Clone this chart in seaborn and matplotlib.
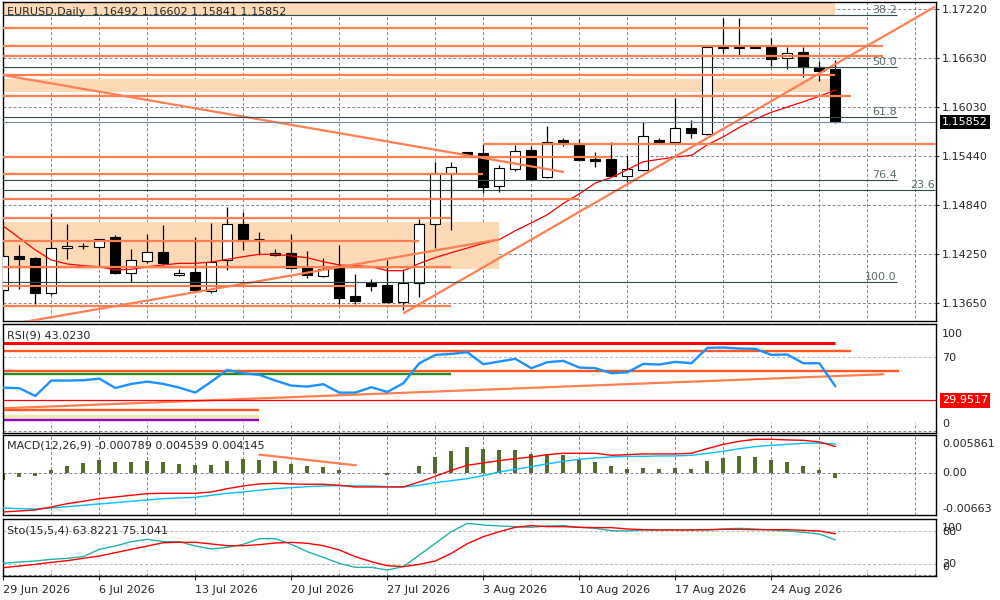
import numpy as np
import pandas as pd
import matplotlib
matplotlib.use("Agg")
import matplotlib.pyplot as plt
import seaborn as sns

# ---------------- data ----------------
header_text = "EURUSD,Daily  1.16492 1.16602 1.15841 1.15852"
rsi_text = "RSI(9) 43.0230"
macd_text = "MACD(12,26,9) -0.000789 0.004539 0.004145"
sto_text = "Sto(15,5,4) 63.8221 75.1041"

date_tick_bars = [0, 6, 12, 18, 24, 30, 36, 42, 48]
date_tick_labels = ["29 Jun 2026", "6 Jul 2026", "13 Jul 2026", "20 Jul 2026", "27 Jul 2026",
                    "3 Aug 2026", "10 Aug 2026", "17 Aug 2026", "24 Aug 2026"]
price_ticks = [1.17220, 1.16630, 1.16030, 1.15440, 1.14840, 1.14250, 1.13650]
last_price = 1.15852

opens = [1.13812, 1.14225, 1.14204, 1.13772, 1.14319, 1.14345, 1.14338, 1.14452, 1.14022, 1.14168,
         1.14270, 1.13991, 1.14027, 1.13800, 1.14177, 1.14610, 1.14428, 1.14258, 1.14258, 1.14083,
         1.13982, 1.14083, 1.13739, 1.13893, 1.13873, 1.13670, 1.13901, 1.14610, 1.15229, 1.15484,
         1.15472, 1.15078, 1.15281, 1.15512, 1.15181, 1.15633, 1.15573, 1.15403, 1.15403, 1.15200,
         1.15269, 1.15633, 1.15613, 1.15775, 1.15706, 1.16750, 1.16755, 1.16759, 1.16759, 1.16625,
         1.16698, 1.16523, 1.16492]
highs = [1.14260, 1.14359, 1.14213, 1.14747, 1.14614, 1.14383, 1.14435, 1.14480, 1.14310, 1.14492,
         1.14601, 1.14064, 1.14452, 1.14622, 1.14816, 1.14755, 1.14520, 1.14306, 1.14489, 1.14286,
         1.14204, 1.14359, 1.14006, 1.13942, 1.14177, 1.14064, 1.14674, 1.15370, 1.15363, 1.15490,
         1.15585, 1.15330, 1.15573, 1.15564, 1.15803, 1.15654, 1.15642, 1.15484, 1.15613, 1.15443,
         1.15848, 1.15654, 1.16140, 1.15876, 1.16763, 1.17111, 1.17111, 1.16765, 1.16868, 1.16759,
         1.16759, 1.16592, 1.16602]
lows = [1.13780, 1.13824, 1.13642, 1.13752, 1.14192, 1.14310, 1.14092, 1.14006, 1.13913, 1.14136,
        1.14116, 1.13982, 1.13804, 1.13772, 1.14055, 1.14298, 1.14237, 1.14225, 1.14064, 1.13954,
        1.13967, 1.13639, 1.13639, 1.13804, 1.13651, 1.13570, 1.13731, 1.14319, 1.14541, 1.15455,
        1.14994, 1.15006, 1.15261, 1.15148, 1.15168, 1.15564, 1.15382, 1.15302, 1.15188, 1.15127,
        1.15261, 1.15593, 1.15605, 1.15654, 1.15694, 1.16686, 1.16665, 1.16750, 1.16532, 1.16495,
        1.16402, 1.16350, 1.15841]
closes = [1.14225, 1.14192, 1.13772, 1.14319, 1.14350, 1.14348, 1.14431, 1.14022, 1.14177, 1.14270,
          1.14136, 1.14015, 1.13812, 1.14156, 1.14610, 1.14428, 1.14430, 1.14237, 1.14076, 1.13995,
          1.14064, 1.13719, 1.13682, 1.13864, 1.13670, 1.13901, 1.14610, 1.15229, 1.15302, 1.15463,
          1.15066, 1.15290, 1.15500, 1.15160, 1.15605, 1.15593, 1.15391, 1.15379, 1.15200, 1.15278,
          1.15682, 1.15613, 1.15775, 1.15715, 1.16759, 1.16759, 1.16759, 1.16755, 1.16613, 1.16693,
          1.16516, 1.16475, 1.15852]
ma_values = [1.14589, 1.14444, 1.14298, 1.14177, 1.14128, 1.14107, 1.14095, 1.14055, 1.14064, 1.14095,
             1.14116, 1.14136, 1.14136, 1.14152, 1.14185, 1.14217, 1.14246, 1.14246, 1.14225, 1.14204,
             1.14156, 1.14116, 1.14107, 1.14095, 1.14047, 1.14047, 1.14134, 1.14207, 1.14265, 1.14322,
             1.14379, 1.14425, 1.14532, 1.14628, 1.14726, 1.14864, 1.14981, 1.15111, 1.15179, 1.15273,
             1.15370, 1.15399, 1.15427, 1.15446, 1.15576, 1.15673, 1.15786, 1.15888, 1.15970, 1.16034,
             1.16098, 1.16165, 1.16240]
rsi_values = [41.7, 41.2, 34.0, 48.3, 48.3, 48.6, 50.1, 41.4, 45.2, 47.3,
              45.2, 41.7, 37.1, 47.3, 58.2, 55.1, 53.6, 48.3, 43.6, 42.7,
              44.9, 37.1, 37.1, 42.1, 37.7, 45.8, 64.4, 72.2, 73.1, 74.7,
              63.5, 66.0, 68.5, 59.8, 65.4, 66.6, 60.4, 59.8, 55.1, 56.0,
              63.8, 63.2, 65.7, 64.4, 78.7, 79.0, 78.1, 77.8, 72.2, 72.5,
              64.4, 64.4, 43.02]
macd_hist = [-0.00100, -0.00052, -0.00036, 0.00052, 0.00119, 0.00160, 0.00212, 0.00176, 0.00176, 0.00196,
             0.00176, 0.00150, 0.00124, 0.00134, 0.00196, 0.00217, 0.00207, 0.00191, 0.00145, 0.00119,
             0.00103, 0.00046, 0.00010, 0.00000, -0.00020, 0.00000, 0.00119, 0.00258, 0.00346, 0.00413,
             0.00382, 0.00367, 0.00362, 0.00305, 0.00300, 0.00289, 0.00227, 0.00176, 0.00114, 0.00067,
             0.00083, 0.00067, 0.00083, 0.00067, 0.00191, 0.00243, 0.00269, 0.00253, 0.00207, 0.00176,
             0.00119, 0.00052, -0.000789]
macd_red = [-0.00599, -0.00584, -0.00568, -0.00522, -0.00470, -0.00434, -0.00393, -0.00367, -0.00341, -0.00315,
            -0.00310, -0.00310, -0.00310, -0.00289, -0.00238, -0.00196, -0.00165, -0.00155, -0.00165, -0.00170,
            -0.00170, -0.00186, -0.00212, -0.00212, -0.00212, -0.00212, -0.00134, -0.00046, 0.00046, 0.00124,
            0.00160, 0.00196, 0.00227, 0.00253, 0.00289, 0.00310, 0.00310, 0.00310, 0.00279, 0.00289,
            0.00300, 0.00300, 0.00300, 0.00310, 0.00382, 0.00449, 0.00496, 0.00527, 0.00527, 0.00517,
            0.00511, 0.00486, 0.004145]
macd_blue = [-0.00537, -0.00548, -0.00553, -0.00537, -0.00517, -0.00496, -0.00475, -0.00455, -0.00434, -0.00413,
             -0.00393, -0.00382, -0.00372, -0.00341, -0.00310, -0.00289, -0.00263, -0.00238, -0.00222, -0.00207,
             -0.00196, -0.00191, -0.00196, -0.00196, -0.00207, -0.00212, -0.00186, -0.00145, -0.00114, -0.00083,
             -0.00036, 0.00021, 0.00062, 0.00103, 0.00145, 0.00186, 0.00217, 0.00238, 0.00253, 0.00263,
             0.00263, 0.00269, 0.00269, 0.00279, 0.00310, 0.00341, 0.00382, 0.00413, 0.00434, 0.00449,
             0.00465, 0.00470, 0.004539]
sto_main = [21.2, 23.6, 25.5, 28.5, 30.3, 33.3, 46.7, 52.7, 60.6, 64.8,
            60.6, 60.6, 52.7, 47.3, 50.3, 55.8, 66.1, 66.1, 55.8, 42.4,
            32.1, 21.2, 13.9, 13.9, 9.1, 15.2, 36.4, 57.6, 78.8, 93.9,
            90.9, 89.1, 87.9, 86.7, 89.1, 89.7, 86.7, 84.8, 80.6, 80.0,
            81.8, 82.4, 82.4, 82.4, 81.8, 83.6, 84.8, 83.6, 81.8, 80.0,
            77.6, 74.5, 63.82]
sto_signal = [13.3, 16.4, 19.4, 23.0, 26.1, 30.3, 34.5, 40.6, 46.7, 52.7,
              58.8, 59.4, 59.4, 56.4, 53.3, 53.3, 55.2, 58.2, 59.4, 57.6,
              53.3, 45.5, 33.3, 24.2, 17.0, 15.2, 19.4, 25.5, 39.4, 57.0,
              69.7, 78.8, 86.7, 89.7, 87.9, 87.9, 86.7, 86.1, 86.1, 83.6,
              82.4, 81.8, 81.8, 81.8, 82.4, 83.0, 83.0, 82.4, 82.4, 82.4,
              81.2, 80.0, 75.10]

# drawn objects on price chart: (price, bar_from, bar_to)
orange_levels = [(1.16993, -0.5, 54.0), (1.16778, -0.5, 55.0), (1.16653, -0.5, 55.0),
                 (1.16422, -0.5, 52.0), (1.16162, -0.5, 53.0), (1.15588, 30.0, 58.5),
                 (1.15431, -0.5, 38.0), (1.15221, -0.5, 30.0), (1.14921, -0.5, 36.0),
                 (1.14690, -0.5, 28.0), (1.14407, -0.5, 26.0), (1.14095, -0.5, 28.0),
                 (1.13861, -0.5, 22.0), (1.13622, -0.5, 28.0)]
zones = [(1.17147, 1.17400, -0.5, 52.0), (1.16220, 1.16374, -0.5, 52.0), (1.14067, 1.14641, -0.5, 31.0)]
fib_levels = [("38.2", 1.17147, 55.83), ("50.0", 1.16523, 55.83), ("61.8", 1.15909, 55.83),
              ("76.4", 1.15144, 55.83), ("23.6", 1.15023, 58.2), ("100.0", 1.13906, 55.83)]
trend_lines = [((-0.02, 1.16422), (35.04, 1.15245)),
               ((-0.02, 1.13380), (31.0, 1.14428)),
               ((25.0, 1.13529), (58.23, 1.17252))]
rsi_levels = [(83.6, 52.0, "#FF0000", 2.2), (76.2, 53.0, "#FF5722", 1.7), (57.6, 56.0, "#FF5722", 1.7),
              (54.8, 28.0, "#228B22", 1.7), (21.2, 16.0, "#FF5722", 1.7), (14.7, 16.0, "#EEE8AA", 3.2),
              (11.9, 16.0, "#9400D3", 1.7)]
rsi_trend = ((-0.02, 22.5), (55.0, 54.2))
rsi_marker_level = 29.9517
macd_trend = ((16.0, 0.00289), (22.04, 0.00124))

# ---------------- style ----------------
sns.set_style("white")
plt.rcParams["font.family"] = ["DejaVu Sans"]
plt.rcParams["font.size"] = 8

CORAL = "#FF7F50"
PEACH = "#FDD9B6"
GRID = "#778899"
FIB = "#2F4F4F"
XMIN, XMAX = -0.02, 58.29

fig = plt.figure(figsize=(10, 6), dpi=100)
fig.patch.set_facecolor("white")


def px_axes(x0, y0, x1, y1):
    return fig.add_axes([x0 / 1000, 1 - y1 / 600, (x1 - x0) / 1000, (y1 - y0) / 600])


ax = px_axes(3, 2, 936, 321)
ax_rsi = px_axes(3, 324, 936, 432.5)
ax_macd = px_axes(3, 434.7, 936, 515.3)
ax_sto = px_axes(3, 519, 936, 576)

bars = np.arange(len(opens))
grid_bars = np.arange(0, 58, 3)

for a in (ax, ax_rsi, ax_macd, ax_sto):
    a.set_xlim(XMIN, XMAX)
    for s in a.spines.values():
        s.set_color("black")
        s.set_linewidth(1.0)
    a.vlines(grid_bars, -10, 10, colors=GRID, lw=0.7, linestyles=(0, (3, 2.2)), zorder=0.5)
    a.tick_params(axis="x", which="both", bottom=False, labelbottom=False)
    a.tick_params(axis="y", which="both", left=False, labelleft=False)

# ---------------- main chart ----------------
ax.set_ylim(1.13436, 1.17309)
ax.hlines(price_ticks, XMIN, XMAX, colors=GRID, lw=0.7, linestyles=(0, (3, 2.2)), zorder=0.5)
for lo, hi, b0, b1 in zones:
    ax.fill_between([b0, b1], lo, hi, color=PEACH, lw=0, zorder=1)

o = np.array(opens); c = np.array(closes)
body_bottom = np.minimum(o, c)
body_h = np.maximum(np.abs(c - o), 0.00002)
faces = ["white" if cc >= oo else "black" for oo, cc in zip(o, c)]
ax.vlines(bars, lows, highs, colors="black", lw=0.9, zorder=3)
ax.bar(bars, body_h, bottom=body_bottom, width=0.62, color=faces, edgecolor="black", linewidth=0.8, zorder=4)

sns.lineplot(x=bars, y=ma_values, ax=ax, color="#FF0000", lw=0.9, zorder=5)

for price, b0, b1 in orange_levels:
    ax.hlines(price, b0, b1, colors=CORAL, lw=1.6, zorder=6)
for (x0, y0), (x1, y1) in trend_lines:
    ax.plot([x0, x1], [y0, y1], color=CORAL, lw=1.6, zorder=6, solid_capstyle="butt")
for lab, price, b1 in fib_levels:
    ax.hlines(price, -0.5, b1, colors=FIB, lw=0.8, zorder=6)
    ax.text(b1, price, lab, ha="right", va="bottom", fontsize=8, color="#5A6B6B", zorder=7)
ax.axhline(last_price, color=GRID, lw=0.8, zorder=6)

ax.yaxis.tick_right()
ax.set_yticks(price_ticks)
ax.set_yticklabels([f"{p:.5f}" for p in price_ticks])
ax.tick_params(axis="y", right=True, labelright=True, length=2.5, pad=1.5, labelsize=8, direction="out")
ax.set_xlabel(""); ax.set_ylabel("")
ax.text(0.0043, 0.968, header_text, transform=ax.transAxes, ha="left", va="center", fontsize=8, zorder=8)
ax.text(1.0065, last_price, f"{last_price:.5f}", transform=ax.get_yaxis_transform(), ha="left", va="center",
        fontsize=8, color="white", bbox=dict(boxstyle="square,pad=0.2", fc="black", ec="none"), clip_on=False)

# ---------------- RSI ----------------
ax_rsi.set_ylim(0, 100.9)
ax_rsi.hlines([70, 30], XMIN, XMAX, colors="#B8B8B8", lw=0.7, linestyles=(0, (3, 2.2)), zorder=0.6)
ax_rsi.hlines([1.0], XMIN, XMAX, colors=GRID, lw=0.7, linestyles=(0, (3, 2.2)), zorder=0.6)
for val, b1, col, lw in rsi_levels:
    ax_rsi.hlines(val, -0.5, b1, colors=col, lw=lw, zorder=2)
(tx0, ty0), (tx1, ty1) = rsi_trend
ax_rsi.plot([tx0, tx1], [ty0, ty1], color=CORAL, lw=1.6, zorder=2)
ax_rsi.axhline(rsi_marker_level, color="#FF0000", lw=0.9, zorder=2)
sns.lineplot(x=bars, y=rsi_values, ax=ax_rsi, color="#1E90FF", lw=1.7, zorder=4)
ax_rsi.set_xlabel(""); ax_rsi.set_ylabel("")
ax_rsi.text(0.0043, 0.895, rsi_text, transform=ax_rsi.transAxes, ha="left", va="center", fontsize=8)
yt = ax_rsi.get_yaxis_transform()
for lab, v in (("100", 91.4), ("70", 69.5), ("0", 7.6)):
    ax_rsi.text(1.0065, v, lab, transform=yt, ha="left", va="center", fontsize=8, clip_on=False)
ax_rsi.text(1.0065, rsi_marker_level, f"{rsi_marker_level:.4f}", transform=yt, ha="left", va="center",
            fontsize=8, color="white", bbox=dict(boxstyle="square,pad=0.2", fc="#FF0000", ec="none"), clip_on=False)

# ---------------- MACD ----------------
ax_macd.set_ylim(-0.00651, 0.00598)
ax_macd.axhline(0, color=GRID, lw=0.7, ls=(0, (3, 2.2)), zorder=0.6)
ax_macd.vlines(bars, 0, macd_hist, colors="#556B2F", lw=1.6, zorder=2, antialiased=False)
sns.lineplot(x=bars, y=macd_blue, ax=ax_macd, color="#00BFFF", lw=1.0, zorder=3)
sns.lineplot(x=bars, y=macd_red, ax=ax_macd, color="#FF0000", lw=1.0, zorder=3)
(mx0, my0), (mx1, my1) = macd_trend
ax_macd.plot([mx0, mx1], [my0, my1], color=CORAL, lw=1.6, zorder=4)
ax_macd.set_xlabel(""); ax_macd.set_ylabel("")
ax_macd.text(0.0043, 0.872, macd_text, transform=ax_macd.transAxes, ha="left", va="center", fontsize=8)
yt = ax_macd.get_yaxis_transform()
for lab, v in (("0.005861", 0.00459), ("0.00", 0.0), ("-0.00663", -0.00549)):
    ax_macd.text(1.0065, v, lab, transform=yt, ha="left", va="center", fontsize=8, clip_on=False)

# ---------------- Stochastic ----------------
ax_sto.set_ylim(-1.8, 101.8)
ax_sto.hlines([80, 20], XMIN, XMAX, colors="#B8B8B8", lw=0.7, linestyles=(0, (3, 2.2)), zorder=0.6)
ax_sto.hlines([0.5], XMIN, XMAX, colors=GRID, lw=0.7, linestyles=(0, (3, 2.2)), zorder=0.6)
sns.lineplot(x=bars, y=sto_main, ax=ax_sto, color="#20B2AA", lw=1.0, zorder=3)
sns.lineplot(x=bars, y=sto_signal, ax=ax_sto, color="#FF0000", lw=1.0, zorder=3)
ax_sto.set_xlabel(""); ax_sto.set_ylabel("")
ax_sto.text(0.0043, 0.80, sto_text, transform=ax_sto.transAxes, ha="left", va="center", fontsize=8)
yt = ax_sto.get_yaxis_transform()
for lab, v in (("100", 86), ("80", 78), ("20", 20.5), ("0", 14)):
    ax_sto.text(1.0065, v, lab, transform=yt, ha="left", va="center", fontsize=8, clip_on=False)

ax_sto.set_xticks(date_tick_bars)
ax_sto.set_xticklabels(date_tick_labels, ha="left")
ax_sto.tick_params(axis="x", bottom=True, labelbottom=True, length=3, width=0.8, pad=3.5, labelsize=8,
                   direction="out")
for lbl in ax_sto.get_xticklabels():
    lbl.set_horizontalalignment("left")

fig.savefig("out.png", dpi=100, facecolor="white")
